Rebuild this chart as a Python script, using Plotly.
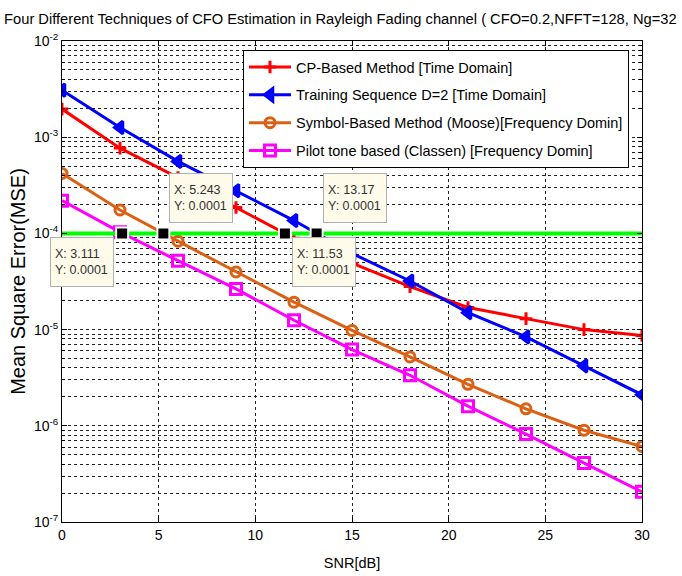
import math
import plotly.graph_objects as go

# ---- data ----
snr = [0, 3, 6, 9, 12, 15, 18, 21, 24, 27, 30]
cp_based = [1.96e-3, 7.7e-4, 3.8e-4, 1.86e-4, 8.9e-5, 4.9e-5, 2.8e-5, 1.7e-5, 1.3e-5, 1.0e-5, 8.7e-6]
training_seq = [3.08e-3, 1.26e-3, 5.6e-4, 2.78e-4, 1.36e-4, 6.2e-5, 3.2e-5, 1.5e-5, 8.4e-6, 4.2e-6, 2.1e-6]
moose = [4.2e-4, 1.75e-4, 8.3e-5, 3.98e-5, 1.93e-5, 9.8e-6, 5.2e-6, 2.7e-6, 1.5e-6, 9.0e-7, 6.1e-7]
classen = [2.19e-4, 1.03e-4, 5.2e-5, 2.65e-5, 1.25e-5, 6.2e-6, 3.35e-6, 1.6e-6, 8.2e-7, 4.1e-7, 2.06e-7]

threshold_x = [0, 30]
threshold_y = [1e-4, 1e-4]

tip_x = [3.111, 5.243, 11.53, 13.17]
tip_y = [0.0001, 0.0001, 0.0001, 0.0001]
tip_labels = ["3.111", "5.243", "11.53", "13.17"]

series_names = [
    "CP-Based Method [Time Domain]",
    "Training Sequence D=2 [Time Domain]",
    "Symbol-Based Method (Moose)[Frequency Domin]",
    "Pilot tone based (Classen) [Frequency Domin]",
]

x_ticks = [0, 5, 10, 15, 20, 25, 30]
y_exps = [-7, -6, -5, -4, -3, -2]

FONT = "Liberation Sans, Arial, sans-serif"

fig = go.Figure()

styles = [
    dict(color="#FF0000", symbol="cross-thin-open", size=9),
    dict(color="#0000FF", symbol="triangle-left", size=11),
    dict(color="#DC6014", symbol="circle-open", size=10),
    dict(color="#FF00FF", symbol="square-open", size=11),
]
for name, ys, st in zip(series_names, [cp_based, training_seq, moose, classen], styles):
    fig.add_trace(go.Scatter(
        x=snr, y=ys, mode="lines+markers", name=name,
        line=dict(color=st["color"], width=3),
        marker=dict(symbol=st["symbol"], size=st["size"], color=st["color"],
                    line=dict(color=st["color"], width=3)),
        legendgroup=name,
    ))

fig.add_trace(go.Scatter(
    x=threshold_x, y=threshold_y, mode="lines", showlegend=False,
    line=dict(color="#00FF00", width=4),
))
fig.add_trace(go.Scatter(
    x=tip_x, y=tip_y, mode="markers", showlegend=False,
    marker=dict(symbol="square", size=12, color="black", line=dict(color="white", width=2)),
))

# datatip boxes
placements = [
    dict(xanchor="right", yanchor="top", xshift=-8, yshift=-4),
    dict(xanchor="left", yanchor="bottom", xshift=6, yshift=10),
    dict(xanchor="left", yanchor="top", xshift=7, yshift=-4),
    dict(xanchor="left", yanchor="bottom", xshift=6, yshift=10),
]
for tx, ty, lab, pl in zip(tip_x, tip_y, tip_labels, placements):
    fig.add_annotation(
        x=tx, y=math.log10(ty), xref="x", yref="y",
        text=f"X: {lab}<br>Y: {ty:.4f}",
        showarrow=False, align="left", valign="middle",
        width=54, height=40,
        font=dict(family=FONT, size=12.5, color="#333333"),
        bgcolor="#FFFBEA", bordercolor="#B0B0B0", borderwidth=1, borderpad=4,
        **pl,
    )

minor_vals = [k * 10.0 ** e for e in range(-7, -2) for k in range(2, 10)]

fig.update_layout(
    width=682, height=576,
    margin=dict(l=62, r=40, t=41, b=54),
    paper_bgcolor="white", plot_bgcolor="white",
    title=dict(
        text="Four Different Techniques of CFO Estimation in Rayleigh Fading channel ( CFO=0.2,NFFT=128, Ng=32",
        x=0.006, xref="container", xanchor="left", y=1 - 19 / 576, yref="container", yanchor="middle",
        font=dict(family=FONT, size=14.7, color="black"),
    ),
    legend=dict(
        x=(243 - 62) / 580, y=(522 - 50) / 481, xanchor="left", yanchor="top",
        bgcolor="white", bordercolor="black", borderwidth=1,
        font=dict(family=FONT, size=14.5, color="black"),
        tracegroupgap=6, itemwidth=42,
    ),
    xaxis=dict(
        range=[0, 30], tickvals=x_ticks, ticktext=[str(v) for v in x_ticks],
        showline=True, mirror="ticks", linecolor="black", linewidth=1,
        ticks="inside", ticklen=5, tickcolor="black",
        showgrid=True, gridcolor="#222222", gridwidth=1, griddash="3px,3px",
        zeroline=False, automargin=False,
        tickfont=dict(family=FONT, size=14, color="black"),
        title=dict(text="SNR[dB]", font=dict(family=FONT, size=14.5, color="black"), standoff=16),
    ),
    yaxis=dict(
        type="log", range=[-7, -2],
        tickvals=[10.0 ** e for e in y_exps],
        ticktext=[f"10<sup>{e}</sup>" for e in y_exps],
        showline=True, mirror="ticks", linecolor="black", linewidth=1,
        ticks="inside", ticklen=5, tickcolor="black",
        showgrid=True, gridcolor="#222222", gridwidth=1, griddash="3px,3px",
        zeroline=False, automargin=False,
        minor=dict(tickvals=minor_vals, showgrid=True, gridcolor="#222222", gridwidth=1,
                   griddash="3px,3px", ticks="inside", ticklen=3, tickcolor="black"),
        tickfont=dict(family=FONT, size=14, color="black"),
        title=dict(text="Mean Square Error(MSE)", font=dict(family=FONT, size=20, color="black"), standoff=2),
    ),
)

fig.write_html("out.html", config={"displayModeBar": False},
               post_script="document.body.style.margin='0';")
